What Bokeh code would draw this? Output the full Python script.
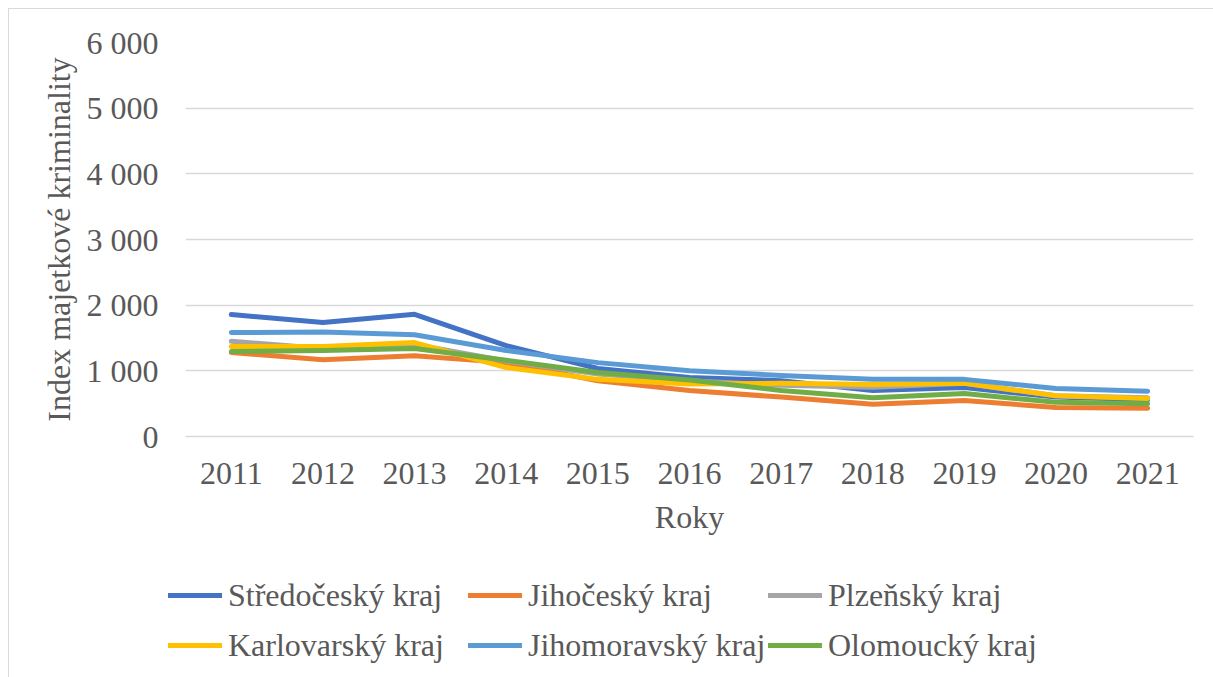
from bokeh.plotting import figure
from bokeh.layouts import column, row
from bokeh.models import Legend, LegendItem, FixedTicker, FactorRange, Range1d
from bokeh.embed import file_html
from bokeh.resources import INLINE

years = ["2011", "2012", "2013", "2014", "2015", "2016", "2017", "2018", "2019", "2020", "2021"]
stredocesky = [1857, 1735, 1860, 1385, 1035, 900, 850, 700, 745, 600, 560]
jihocesky = [1280, 1170, 1230, 1125, 850, 700, 600, 490, 550, 440, 430]
plzensky = [1450, 1340, 1400, 1150, 950, 850, 780, 750, 810, 620, 590]
karlovarsky = [1370, 1370, 1430, 1050, 870, 800, 810, 790, 810, 620, 580]
jihomoravsky = [1583, 1590, 1550, 1310, 1125, 1000, 930, 870, 870, 730, 690]
olomoucky = [1295, 1310, 1340, 1160, 975, 860, 700, 590, 655, 520, 500]

series_names = ["Středočeský kraj", "Jihočeský kraj", "Plzeňský kraj",
                "Karlovarský kraj", "Jihomoravský kraj", "Olomoucký kraj"]
series_values = [stredocesky, jihocesky, plzensky, karlovarsky, jihomoravsky, olomoucky]
colors = ["#4472C4", "#ED7D31", "#A5A5A5", "#FFC000", "#5B9BD5", "#70AD47"]

y_ticks = [0, 1000, 2000, 3000, 4000, 5000, 6000]
y_tick_labels = ["0", "1 000", "2 000", "3 000", "4 000", "5 000", "6 000"]

FONT = "Liberation Serif"
TXT = "#595959"
FS = "32px"

p = figure(width=1204, height=551, x_range=FactorRange(*years), y_range=Range1d(0, 6000),
           output_backend="svg", toolbar_location=None,
           min_border_left=176, min_border_right=20, min_border_top=33, min_border_bottom=124)
p.outline_line_color = None
p.background_fill_color = "white"

renderers = []
for name, vals, c in zip(series_names, series_values, colors):
    r = p.line(years, vals, line_color=c, line_width=5, line_join="round", line_cap="round")
    renderers.append(r)

p.yaxis.ticker = FixedTicker(ticks=y_ticks)
p.yaxis.major_label_overrides = {t: l for t, l in zip(y_ticks, y_tick_labels)}
p.ygrid.grid_line_color = "#d9d9d9"
p.ygrid.grid_line_width = 1.5
p.xgrid.grid_line_color = None

for ax in (p.xaxis, p.yaxis):
    ax.axis_line_color = None
    ax.major_tick_line_color = None
    ax.minor_tick_line_color = None
    ax.major_label_text_font = FONT
    ax.major_label_text_font_size = FS
    ax.major_label_text_color = TXT
    ax.axis_label_text_font = FONT
    ax.axis_label_text_font_size = FS
    ax.axis_label_text_color = TXT
    ax.axis_label_text_font_style = "normal"

p.xaxis.axis_label = "Roky"
p.xaxis.major_label_standoff = 20
p.xaxis.axis_label_standoff = 12
p.xaxis.axis_line_color = "#d9d9d9"
p.xaxis.axis_line_width = 1.5
p.yaxis.axis_label = "Index majetkové kriminality"
p.yaxis.major_label_standoff = 21
p.yaxis.axis_label_standoff = 7

# legend-only panel under the chart (its lines lie outside its visible y range)
q = figure(width=1204, height=117, x_range=FactorRange(*years), y_range=Range1d(-3000, -2000),
           output_backend="svg", toolbar_location=None,
           x_axis_location=None, y_axis_location=None,
           min_border_left=0, min_border_right=0, min_border_top=0, min_border_bottom=0)
q.grid.visible = False
q.outline_line_color = None
leg_renderers = {}
for name, vals, c in zip(series_names, series_values, colors):
    leg_renderers[name] = q.line(years, vals, line_color=c, line_width=5, line_cap="round")

# Bokeh fills legend columns first: order so rows read like the reference
legend_order = ["Středočeský kraj", "Karlovarský kraj", "Jihočeský kraj",
                "Jihomoravský kraj", "Plzeňský kraj", "Olomoucký kraj"]
items = [LegendItem(label=n, renderers=[leg_renderers[n]]) for n in legend_order]
legend = Legend(items=items, ncols=3, location=(159, 7),
                label_text_font=FONT, label_text_font_size=FS, label_text_color=TXT,
                glyph_width=54, glyph_height=50, label_height=50, label_width=240,
                label_standoff=6, spacing=0, padding=0, margin=0,
                border_line_color=None, background_fill_alpha=0)
q.add_layout(legend, "center")

layout = column(p, row(q, spacing=0), spacing=0,
                styles={"margin-left": "8px", "margin-top": "8px",
                        "border-left": "1px solid #d9d9d9", "border-top": "1px solid #d9d9d9"})

open("out.html", "w").write(file_html(layout, INLINE))
